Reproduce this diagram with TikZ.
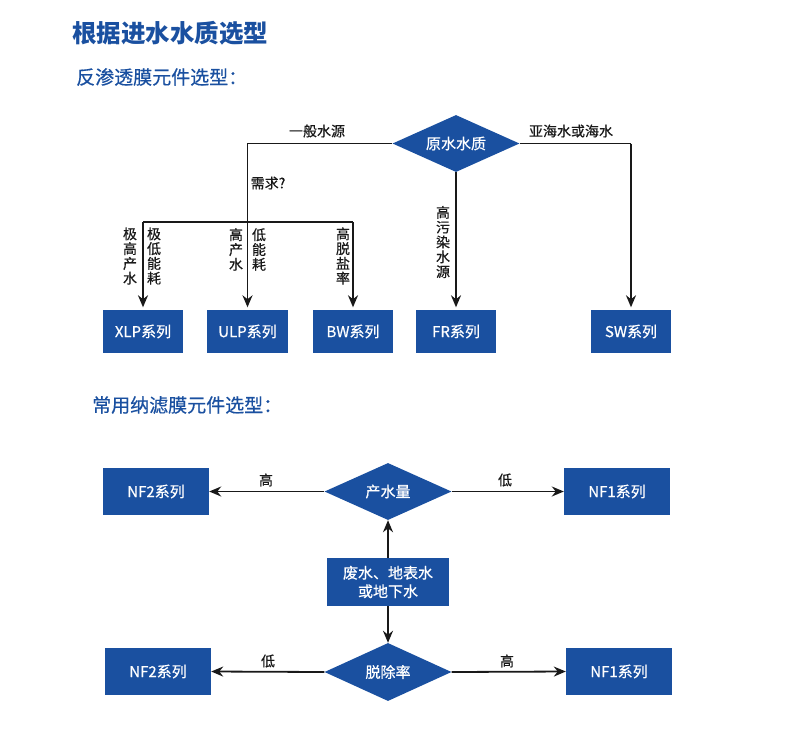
\documentclass[tikz,border=0pt]{standalone}
\usepackage{fontspec}
\setmainfont{Noto Sans CJK SC}
\newfontfamily\medfont{Noto Sans CJK SC}[FakeBold=0.6]
\usetikzlibrary{shapes.geometric,arrows.meta}
\definecolor{bl}{RGB}{26,80,160}
\definecolor{ln}{RGB}{25,25,25}
\tikzset{
  box/.style={fill=bl, text=white, inner sep=0pt, font=\medfont\fontsize{15}{18}\selectfont},
  dia/.style={diamond, aspect=2.2, fill=bl, text=white, inner sep=0pt, minimum width=127pt, minimum height=57pt, font=\medfont\fontsize{15}{18}\selectfont},
  lbl/.style={inner sep=0pt, text=ln, font=\medfont\fontsize{14}{16}\selectfont},
  vlbl/.style={inner sep=0pt, text=ln, align=center, font=\medfont\fontsize{14}{14.8}\selectfont},
  conn/.style={draw=ln, line width=1.8pt},
  arr/.style={conn, -{Stealth[length=12pt,width=10pt]}},
  head/.style={inner sep=0pt, text=bl, anchor=west}
}
\begin{document}
\begin{tikzpicture}[x=1pt,y=-1pt]
\useasboundingbox (0,0) rectangle (800,742);
% titles
\node[head, font=\fontsize{24.5}{28}\selectfont\bfseries] (t1) at (72,33) {根据进水水质选型};
\node[head, font=\medfont\fontsize{19}{22}\selectfont] (t2) at (76,77) {反渗透膜元件选型：};
\node[head, font=\medfont\fontsize{19}{22}\selectfont] (t3) at (92,405) {常用纳滤膜元件选型：};

% reverse osmosis part
\node[dia] (d1) at (456,143.5) {原水水质};
\node[box, minimum width=80pt, minimum height=43pt] (xlp) at (143,331.5) {XLP系列};
\node[box, minimum width=81pt, minimum height=43pt] (ulp) at (247.5,331.5) {ULP系列};
\node[box, minimum width=80pt, minimum height=43pt] (bw) at (353,331.5) {BW系列};
\node[box, minimum width=80pt, minimum height=43pt] (fr) at (456,331.5) {FR系列};
\node[box, minimum width=80pt, minimum height=43pt] (sw) at (631,331.5) {SW系列};

\coordinate (c1) at (247.5,143.5);
\coordinate (c2) at (247.5,222);
\coordinate (c3) at (143,222);
\coordinate (c4) at (353,222);
\coordinate (c5) at (631,143.5);

\draw[conn] (d1.west) -- (c1) -- (c2);
\draw[conn] (c3) -- (c4);
\draw[arr, shorten >=2.5pt] (c3) -- (xlp.north);
\draw[arr, shorten >=2.5pt] (c2) -- (ulp.north);
\draw[arr, shorten >=2.5pt] (c4) -- (bw.north);
\draw[arr, shorten >=2.5pt] (d1.south) -- (fr.north);
\draw[conn] (d1.east) -- (c5);
\draw[arr, shorten >=2.5pt] (c5) -- (sw.north);

\node[lbl] (l1) at (317,131) {一般水源};
\node[lbl] (l2) at (571,131) {亚海水或海水};
\node[lbl, anchor=west] (l3) at (250.5,183) {需求?};
\node[vlbl] (v1) at (130,256) {极\\高\\产\\水};
\node[vlbl] (v2) at (154,256) {极\\低\\能\\耗};
\node[vlbl] (v3) at (236,249.5) {高\\产\\水};
\node[vlbl] (v4) at (259,249.5) {低\\能\\耗};
\node[vlbl] (v5) at (343,256) {高\\脱\\盐\\率};
\node[vlbl] (v6) at (443,242) {高\\污\\染\\水\\源};

% nanofiltration part
\node[dia] (d2) at (388,491.5) {产水量};
\node[dia, minimum height=58pt] (d3) at (388,672) {脱除率};
\node[box, minimum width=122pt, minimum height=48pt, align=center, font=\medfont\fontsize{15}{18.5}\selectfont] (mid) at (388,582) {废水、地表水\\或地下水};
\node[box, minimum width=106pt, minimum height=47pt] (nf2a) at (156,491.5) {NF2系列};
\node[box, minimum width=106pt, minimum height=47pt] (nf1a) at (617,491.5) {NF1系列};
\node[box, minimum width=106pt, minimum height=47pt] (nf2b) at (158,671.5) {NF2系列};
\node[box, minimum width=106pt, minimum height=47pt] (nf1b) at (619,671.5) {NF1系列};

\draw[arr] (mid.north) -- (d2.south);
\draw[arr] (mid.south) -- (d3.north);
\draw[arr] (d2.west) -- (nf2a.east);
\draw[arr] (d2.east) -- (nf1a.west);
\draw[arr] (d3.west) -- (nf2b.east);
\draw[arr] (d3.east) -- (nf1b.west);

\node[lbl] (h1) at (266,480) {高};
\node[lbl] (h2) at (505,480) {低};
\node[lbl] (h3) at (268,661) {低};
\node[lbl] (h4) at (507,661) {高};
\end{tikzpicture}
\end{document}
